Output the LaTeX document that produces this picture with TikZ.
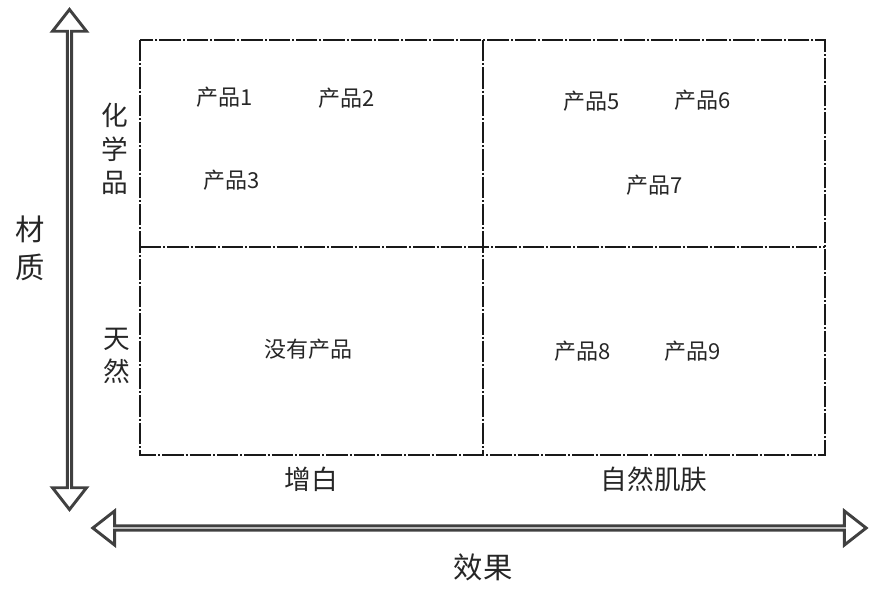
\documentclass[tikz,border=0pt]{standalone}
\usepackage{fontspec}
\setmainfont{Noto Sans CJK SC}
\usetikzlibrary{shapes.arrows}

\tikzset{
  product/.style={inner sep=0pt, text=black!85, font=\fontsize{16.5}{18}\selectfont},
  axislabel/.style={inner sep=0pt, text=black!85, align=center, font=\fontsize{20}{25}\selectfont},
  quadline/.style={draw=black!90, line width=1.7pt, dash pattern=on 16pt off 1.5pt on 1.5pt off 1.5pt},
  axisarrow/.style={double arrow, draw=black!75, line width=2.2pt, fill=white, inner sep=0pt,
    minimum width=25.5pt, double arrow head extend=7.6pt, double arrow tip angle=76},
}

\begin{document}
\begin{tikzpicture}[x=0.75pt, y=-0.75pt]
    \useasboundingbox (0,0) rectangle (876,590);

    % axes
    \node[axisarrow, rotate=90, minimum height=375pt] (material) at (69.5,259.5) {};
    \node[axisarrow, minimum height=580pt] (effect) at (479.5,528) {};

    % quadrants
    \coordinate (topleft) at (140,40);
    \coordinate (bottomright) at (825,455);
    \coordinate (midtop) at (483,40);
    \coordinate (midbottom) at (483,455);
    \coordinate (midleft) at (140,247);
    \coordinate (midright) at (825,247);
    \draw[quadline] (topleft) rectangle (bottomright);
    \draw[quadline] (midtop) -- (midbottom);
    \draw[quadline] (midleft) -- (midright);

    % axis labels
    \node[axislabel, font=\fontsize{22}{28.5}\selectfont] (materiallabel) at (30,248) {材\\质};
    \node[axislabel] (chemical) at (115,149) {化\\学\\品};
    \node[axislabel] (natural) at (117,356) {天\\然};
    \node[axislabel] (whitening) at (311,479) {增白};
    \node[axislabel] (naturalskin) at (654,479) {自然肌肤};
    \node[axislabel, font=\fontsize{22}{26}\selectfont] (effectlabel) at (483,567) {效果};

    % products
    \node[product] (p1) at (225,97) {产品1};
    \node[product] (p2) at (347,98) {产品2};
    \node[product] (p3) at (232,180) {产品3};
    \node[product] (p5) at (592,101) {产品5};
    \node[product] (p6) at (703,100) {产品6};
    \node[product] (p7) at (655,185) {产品7};
    \node[product] (none) at (308,349) {没有产品};
    \node[product] (p8) at (583,351) {产品8};
    \node[product] (p9) at (693,351) {产品9};

\end{tikzpicture}
\end{document}
